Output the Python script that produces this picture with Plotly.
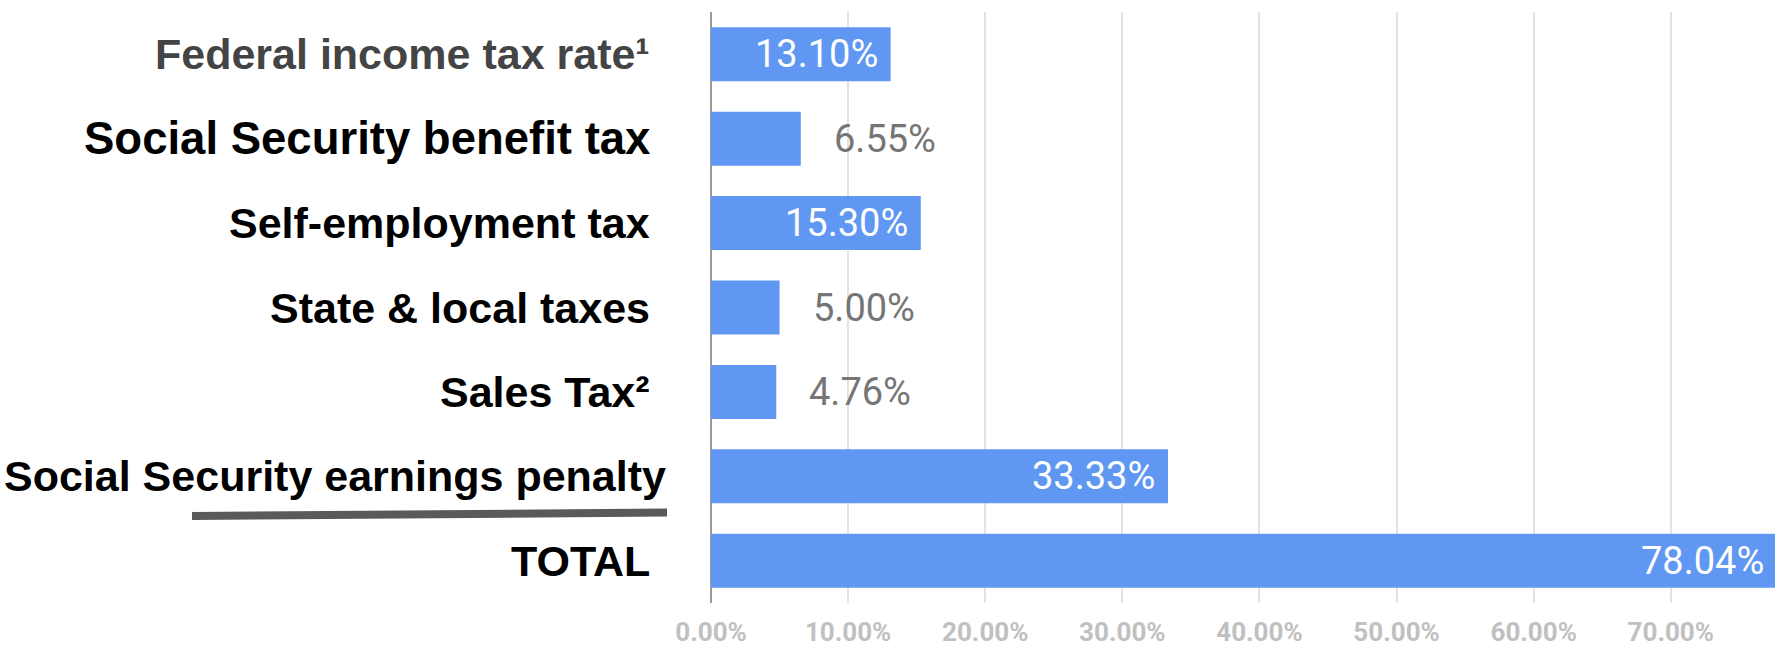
import plotly.graph_objects as go

categories = [
    "Federal income tax rate¹",
    "Social Security benefit tax",
    "Self-employment tax",
    "State & local taxes",
    "Sales Tax²",
    "Social Security earnings penalty",
    "TOTAL",
]
values = [13.10, 6.55, 15.30, 5.00, 4.76, 33.33, 78.04]
label_colors = ["#444444", "#000000", "#000000", "#000000", "#000000", "#000000", "#000000"]
tick_values = [0, 10, 20, 30, 40, 50, 60, 70]
tick_labels = ["0.00%", "10.00%", "20.00%", "30.00%", "40.00%", "50.00%", "60.00%", "70.00%"]

W, H = 1775, 647
ML, MR, MT, MB = 711, 0, 12, 44
PW = W - ML - MR
PH = H - MT - MB
XMAX = 77.6

BAR = "#6097f2"

fig = go.Figure()
fig.add_trace(go.Bar(
    x=values, y=categories, orientation="h",
    marker=dict(color=BAR, line=dict(width=0)),
    width=0.64, hoverinfo="skip",
))

annotations = []
# value labels
for c, v in zip(categories, values):
    txt = f"{v:.2f}%"
    if v > 10:
        annotations.append(dict(
            x=min(v, XMAX), y=c, xref="x", yref="y", text=txt, showarrow=False,
            xanchor="right", xshift=-11 if v < XMAX else -9, yanchor="middle",
            font=dict(family="Roboto", size=38, color="#ffffff"),
        ))
    else:
        annotations.append(dict(
            x=v, y=c, xref="x", yref="y", text=txt, showarrow=False,
            xanchor="left", xshift=31, yanchor="middle",
            font=dict(family="Roboto", size=38, color="#757575"),
        ))

# category labels
for c, col in zip(categories, label_colors):
    right_px = 668 if c == "Social Security earnings penalty" else 652
    size = 45.5 if c == "Social Security benefit tax" else 43
    annotations.append(dict(
        x=(right_px - ML) / PW, y=c, xref="paper", yref="y", text=c, showarrow=False,
        xanchor="right", yanchor="middle",
        font=dict(family="Liberation Sans", size=size, color=col, weight="bold"),
    ))

fig.update_layout(
    width=W, height=H,
    margin=dict(l=ML, r=MR, t=MT, b=MB, pad=0, autoexpand=False),
    paper_bgcolor="white", plot_bgcolor="white",
    showlegend=False,
    bargap=0.36,
    annotations=annotations,
    xaxis=dict(
        range=[0, XMAX], tickmode="array", tickvals=tick_values, ticktext=tick_labels,
        showgrid=True, gridcolor="#e3e3e3", gridwidth=2,
        zeroline=True, zerolinecolor="#9a9a9a", zerolinewidth=2,
        showline=False, ticks="", automargin=False,
        tickfont=dict(family="Roboto", size=26, color="#c0c0c0", weight="bold"),
        ticklabelstandoff=11,
        fixedrange=True,
    ),
    yaxis=dict(
        categoryorder="array", categoryarray=categories, autorange="reversed",
        showticklabels=False, showgrid=False, zeroline=False, showline=False, ticks="",
        automargin=False,
    ),
    shapes=[dict(
        type="line", xref="paper", yref="paper",
        x0=(192 - ML) / PW, x1=(667 - ML) / PW,
        y0=(H - MB - 516) / PH, y1=(H - MB - 512.5) / PH,
        line=dict(color="#5a5a5a", width=8),
    )],
)

fig.write_html("out.html")
